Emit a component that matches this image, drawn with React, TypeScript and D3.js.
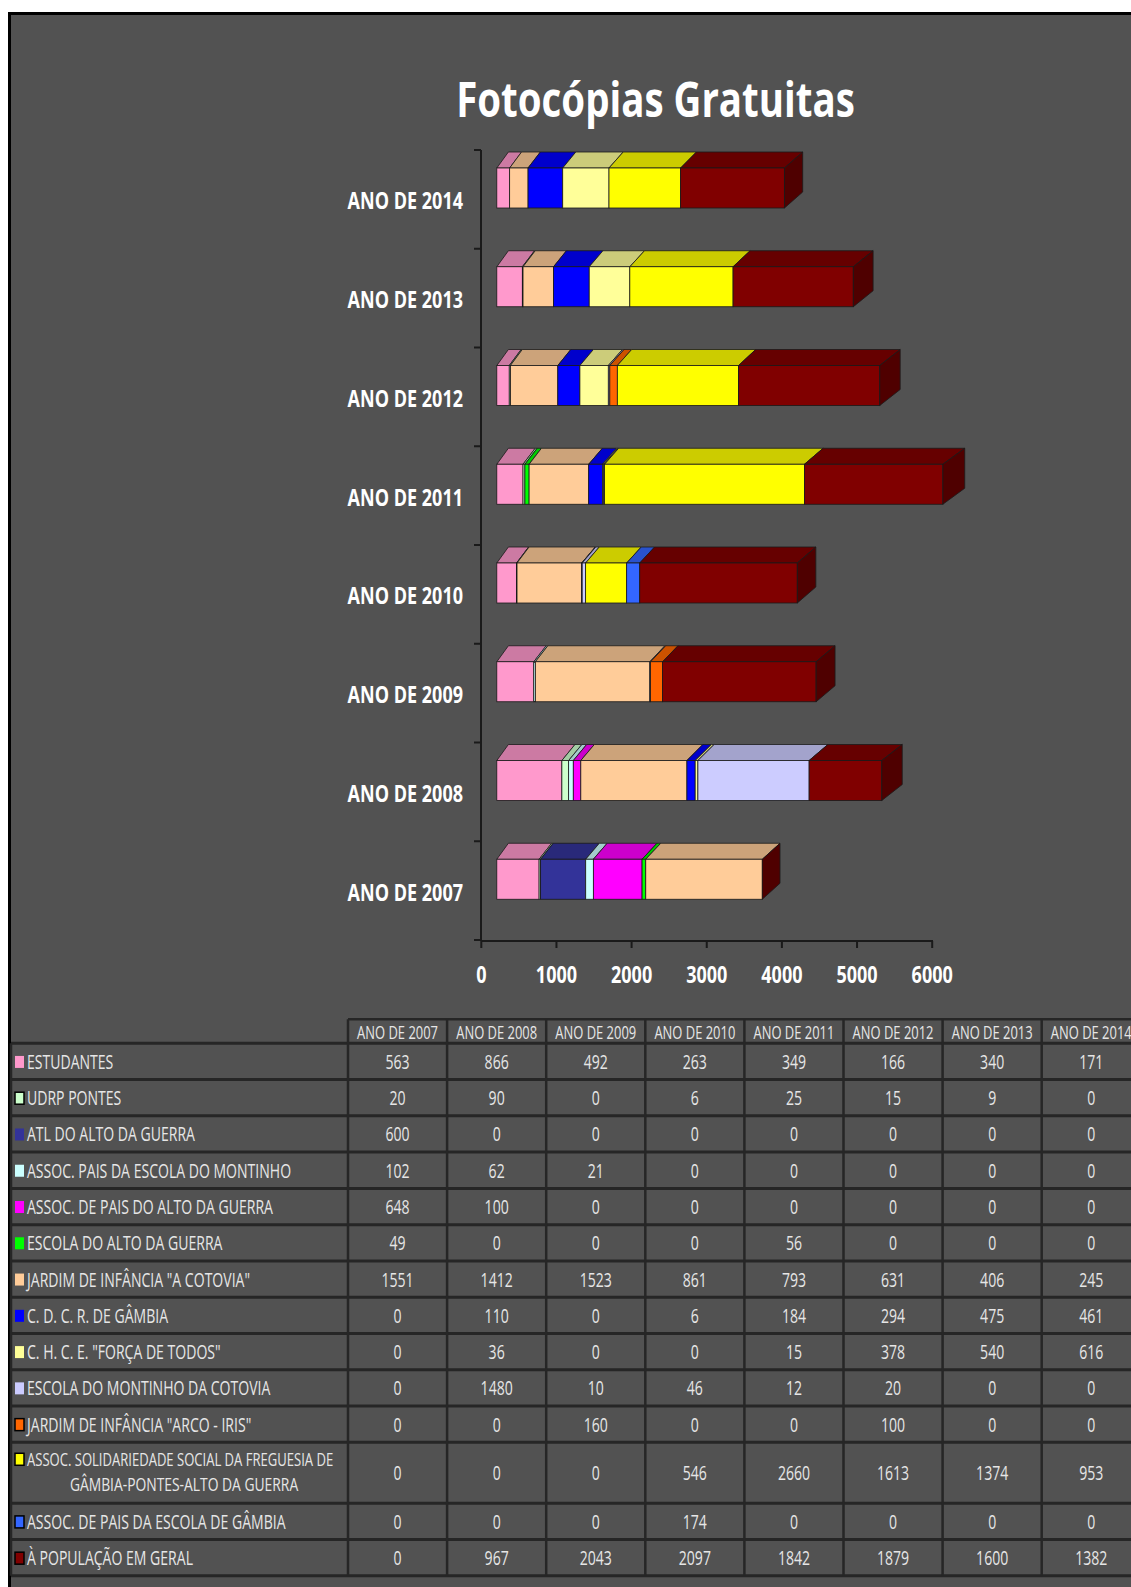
import React from 'react';
import * as d3 from 'd3';

// anos (categorias)
const years = ['ANO DE 2007', 'ANO DE 2008', 'ANO DE 2009', 'ANO DE 2010', 'ANO DE 2011', 'ANO DE 2012', 'ANO DE 2013', 'ANO DE 2014'];
const xTicks = [0, 1000, 2000, 3000, 4000, 5000, 6000];

// valores por entidade, 2007..2014
const estudantes = [563, 866, 492, 263, 349, 166, 340, 171];
const udrp = [20, 90, 0, 6, 25, 15, 9, 0];
const atl = [600, 0, 0, 0, 0, 0, 0, 0];
const paisMontinho = [102, 62, 21, 0, 0, 0, 0, 0];
const paisAltoGuerra = [648, 100, 0, 0, 0, 0, 0, 0];
const escolaAltoGuerra = [49, 0, 0, 0, 56, 0, 0, 0];
const cotovia = [1551, 1412, 1523, 861, 793, 631, 406, 245];
const cdcr = [0, 110, 0, 6, 184, 294, 475, 461];
const chce = [0, 36, 0, 0, 15, 378, 540, 616];
const escolaMontinho = [0, 1480, 10, 46, 12, 20, 0, 0];
const arcoIris = [0, 0, 160, 0, 0, 100, 0, 0];
const solidariedade = [0, 0, 0, 546, 2660, 1613, 1374, 953];
const paisGambia = [0, 0, 0, 174, 0, 0, 0, 0];
const populacao = [0, 967, 2043, 2097, 1842, 1879, 1600, 1382];

const series = [
  { name: ['ESTUDANTES'], color: '#FF99CC', values: estudantes, boxed: false },
  { name: ['UDRP PONTES'], color: '#CCFFCC', values: udrp, boxed: true },
  { name: ['ATL DO ALTO DA GUERRA'], color: '#333399', values: atl, boxed: false },
  { name: ['ASSOC. PAIS DA ESCOLA DO MONTINHO'], color: '#CCFFFF', values: paisMontinho, boxed: false },
  { name: ['ASSOC. DE PAIS DO ALTO DA GUERRA'], color: '#FF00FF', values: paisAltoGuerra, boxed: false },
  { name: ['ESCOLA DO ALTO DA GUERRA'], color: '#00FF00', values: escolaAltoGuerra, boxed: false },
  { name: ['JARDIM DE INFÂNCIA "A COTOVIA"'], color: '#FFCC99', values: cotovia, boxed: false },
  { name: ['C. D. C. R. DE GÂMBIA'], color: '#0000FF', values: cdcr, boxed: false },
  { name: ['C. H. C. E. "FORÇA DE TODOS"'], color: '#FFFF99', values: chce, boxed: false },
  { name: ['ESCOLA DO MONTINHO DA COTOVIA'], color: '#CCCCFF', values: escolaMontinho, boxed: false },
  { name: ['JARDIM DE INFÂNCIA "ARCO - IRIS"'], color: '#FF6600', values: arcoIris, boxed: true },
  { name: ['ASSOC. SOLIDARIEDADE SOCIAL DA FREGUESIA DE', 'GÂMBIA-PONTES-ALTO DA GUERRA'], color: '#FFFF00', values: solidariedade, boxed: true },
  { name: ['ASSOC. DE PAIS DA ESCOLA DE GÂMBIA'], color: '#3366FF', values: paisGambia, boxed: true },
  { name: ['À POPULAÇÃO EM GERAL'], color: '#800000', values: populacao, boxed: true },
];

const FONT = '"Open Sans", "Noto Sans", sans-serif';

const shade = (c: string, k: number) => {
  const r = d3.rgb(c);
  return d3.rgb(r.r * k, r.g * k, r.b * k).formatHex();
};

const T = ({ x, y, sx = 0.72, size = 19.5, anchor = 'start', weight = 'normal', fill = '#e6e6e6', children }: any) => (
  <text
    transform={`translate(${x},${y}) scale(${sx},1)`}
    textAnchor={anchor}
    fontSize={size}
    fontWeight={weight}
    fill={fill}
    fontFamily={FONT}
  >
    {children}
  </text>
);

export default function App() {
  const W = 1131;
  const H = 1587;

  const x = d3.scaleLinear().domain([0, 6000]).range([481.3, 932.2]);
  const y = d3.scaleBand().domain([...years].reverse()).range([150, 940]);
  const frontOff = 15.5;
  const barTop = 18;
  const barH = 40;
  const dy = -16;
  const dx = (xf: number) => 11.6 + 0.023 * (xf - 497);
  const endColor = series[series.length - 1].color;

  // tabela
  const col = d3.scaleBand().domain(years).range([348, 348 + 8 * 99.1]);
  const headTop = 1019.3;
  const rowH = 36.27;
  const rowHeights = series.map(s => (s.name.length > 1 ? 61 : rowH));
  const rowTops: number[] = [];
  let acc = headTop + 24;
  rowHeights.forEach(h => { rowTops.push(acc); acc += h; });
  const tableBottom = acc;

  const bars = years.map((yr, i) => {
    const top = (y(yr) as number) + barTop;
    const bottom = top + barH;
    let cum = 0;
    const segs: { x0: number; x1: number; color: string }[] = [];
    series.forEach(s => {
      const v = s.values[i];
      if (v > 0) {
        segs.push({ x0: x(cum) + frontOff, x1: x(cum + v) + frontOff, color: s.color });
      }
      cum += v;
    });
    const xe = x(cum) + frontOff;
    return (
      <g key={yr}>
        {segs.map((sg, j) => (
          <polygon
            key={'t' + j}
            points={`${sg.x0},${top} ${sg.x1},${top} ${sg.x1 + dx(sg.x1)},${top + dy} ${sg.x0 + dx(sg.x0)},${top + dy}`}
            fill={shade(sg.color, 0.8)}
            stroke="#1a1a1a"
            strokeWidth={0.8}
          />
        ))}
        {segs.map((sg, j) => (
          <rect
            key={'f' + j}
            x={sg.x0}
            y={top}
            width={sg.x1 - sg.x0}
            height={barH}
            fill={sg.color}
            stroke="#1a1a1a"
            strokeWidth={0.8}
          />
        ))}
        <polygon
          points={`${xe},${top} ${xe + dx(xe)},${top + dy} ${xe + dx(xe)},${bottom + dy} ${xe},${bottom}`}
          fill={shade(endColor, 0.62)}
          stroke="#1a1a1a"
          strokeWidth={0.8}
        />
      </g>
    );
  });

  return (
    <svg width={W} height={H} style={{ position: 'absolute', left: 0, top: 0, background: '#fff' }}>
      <rect x={8} y={12} width={W - 8} height={H - 12} fill="#525252" />
      <line x1={8} x2={W} y1={13.5} y2={13.5} stroke="#000" strokeWidth={3} />
      <line x1={9.5} x2={9.5} y1={12} y2={H} stroke="#000" strokeWidth={3} />

      <T x={655.5} y={117} size={49} sx={0.785} weight="bold" anchor="middle" fill="#ffffff">
        Fotocópias Gratuitas
      </T>

      {bars}

      {/* eixos */}
      <line x1={481} x2={481} y1={150} y2={941} stroke="#1a1a1a" strokeWidth={2} />
      <line x1={481} x2={933} y1={941} y2={941} stroke="#1a1a1a" strokeWidth={2} />
      {[...y.domain(), 'end'].map((d, i) => {
        const yy = 150 + i * y.step();
        return <line key={'yt' + i} x1={474} x2={481} y1={yy} y2={yy} stroke="#1a1a1a" strokeWidth={2} />;
      })}
      {xTicks.map(t => (
        <g key={'xt' + t}>
          <line x1={x(t)} x2={x(t)} y1={941} y2={948} stroke="#1a1a1a" strokeWidth={2} />
          <T x={x(t)} y={983} size={23.4} sx={0.77} weight="bold" anchor="middle" fill="#ffffff">
            {t}
          </T>
        </g>
      ))}
      {years.map(yr => (
        <T key={'yl' + yr} x={463} y={(y(yr) as number) + y.bandwidth() / 2 + 10} size={23.4} sx={0.77} weight="bold" anchor="end" fill="#ffffff">
          {yr}
        </T>
      ))}

      {/* tabela */}
      {years.map(yr => (
        <T key={'h' + yr} x={(col(yr) as number) + col.bandwidth() / 2} y={headTop + 19.5} size={18.5} sx={0.7} anchor="middle">
          {yr}
        </T>
      ))}
      {series.map((s, r) => {
        const top = rowTops[r];
        const h = rowHeights[r];
        const twoLine = s.name.length > 1;
        const lineY = twoLine ? top + 24 : top + h / 2 + 7.5;
        return (
          <g key={'row' + r}>
            <rect
              x={15}
              y={lineY - 13}
              width={9}
              height={12}
              fill={s.color}
              stroke={s.boxed ? '#000' : 'none'}
              strokeWidth={1.5}
            />
            <T x={27} y={lineY} size={twoLine ? 18 : 19.5} sx={twoLine ? 0.725 : 0.72}>{s.name[0]}</T>
            {twoLine && <T x={184} y={lineY + 24.5} size={18} sx={0.77} anchor="middle">{s.name[1]}</T>}
            {years.map((yr, i) => (
              <T key={yr} x={(col(yr) as number) + col.bandwidth() / 2} y={top + h / 2 + 7.5} anchor="middle">
                {s.values[i]}
              </T>
            ))}
          </g>
        );
      })}
      {/* linhas da tabela */}
      <line x1={348} x2={W} y1={headTop} y2={headTop} stroke="#262626" strokeWidth={2.5} />
      {[...rowTops, tableBottom].map((yy, i) => (
        <line key={'hl' + i} x1={11} x2={W} y1={yy} y2={yy} stroke="#262626" strokeWidth={3} />
      ))}
      <line x1={11} x2={11} y1={rowTops[0]} y2={tableBottom} stroke="#262626" strokeWidth={2.5} />
      {years.map(yr => (
        <line key={'vl' + yr} x1={col(yr) as number} x2={col(yr) as number} y1={headTop} y2={tableBottom} stroke="#262626" strokeWidth={2.5} />
      ))}
    </svg>
  );
}
